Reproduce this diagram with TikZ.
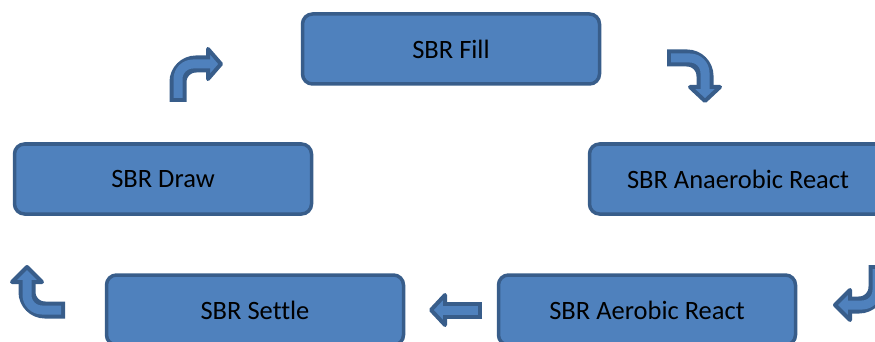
\documentclass[tikz,border=0pt]{standalone}
\usepackage{fontspec}
\setmainfont{Carlito}[Ligatures=NoCommon]
\definecolor{fillc}{HTML}{4F81BD}
\definecolor{bord}{HTML}{385D8A}
\begin{document}
\begin{tikzpicture}[x=1pt,y=-1pt,
  stage/.style={draw=bord, fill=fillc, line width=3.5pt, rounded corners=10pt,
    minimum width=297pt, minimum height=70pt, inner sep=0pt,
    font=\fontsize{26.5}{30}\selectfont, text=black},
  arrout/.style={draw=bord, line width=17pt, rounded corners=18pt},
  arrin/.style={draw=fillc, line width=9pt, rounded corners=15pt},
  arrhead/.style={fill=fillc, draw=bord, line width=4pt, line join=round}
]
\useasboundingbox (0,0) rectangle (875,342);
\node[stage] (fill) at (451,49) {SBR Fill};
\node[stage] (draw) at (163,179) {SBR Draw};
\node[stage] (anaer) at (738,179) {SBR Anaerobic React};
\node[stage] (settle) at (255,310) {SBR Settle};
\node[stage] (aer) at (647,310) {SBR Aerobic React};

% arrow: draw -> fill
\draw[arrout] (178,102) -- (178,64) -- (209,64);
\filldraw[arrhead] (208,49) -- (221,64) -- (208,79) -- cycle;
\draw[arrin] (178,98) -- (178,64) -- (211,64);

% arrow: fill -> anaerobic
\draw[arrout] (667,58) -- (705,58) -- (705,88);
\filldraw[arrhead] (690,87) -- (705,101) -- (720,87) -- cycle;
\draw[arrin] (671,58) -- (705,58) -- (705,90);

% arrow: anaerobic -> aerobic
\draw[arrout] (877,265) -- (877,305) -- (850,305);
\filldraw[arrhead] (850,290) -- (835,305) -- (850,320) -- cycle;
\draw[arrin] (877,269) -- (877,305) -- (848,305);

% arrow: aerobic -> settle
\draw[arrout] (482,310) -- (444,310);
\filldraw[arrhead] (445,295) -- (431,310) -- (445,325) -- cycle;
\draw[arrin] (478,310) -- (443,310);

% arrow: settle -> draw
\draw[arrout] (65,310) -- (27,310) -- (27,281);
\filldraw[arrhead] (12,282) -- (27,267) -- (42,282) -- cycle;
\draw[arrin] (61,310) -- (27,310) -- (27,280);
\end{tikzpicture}
\end{document}
